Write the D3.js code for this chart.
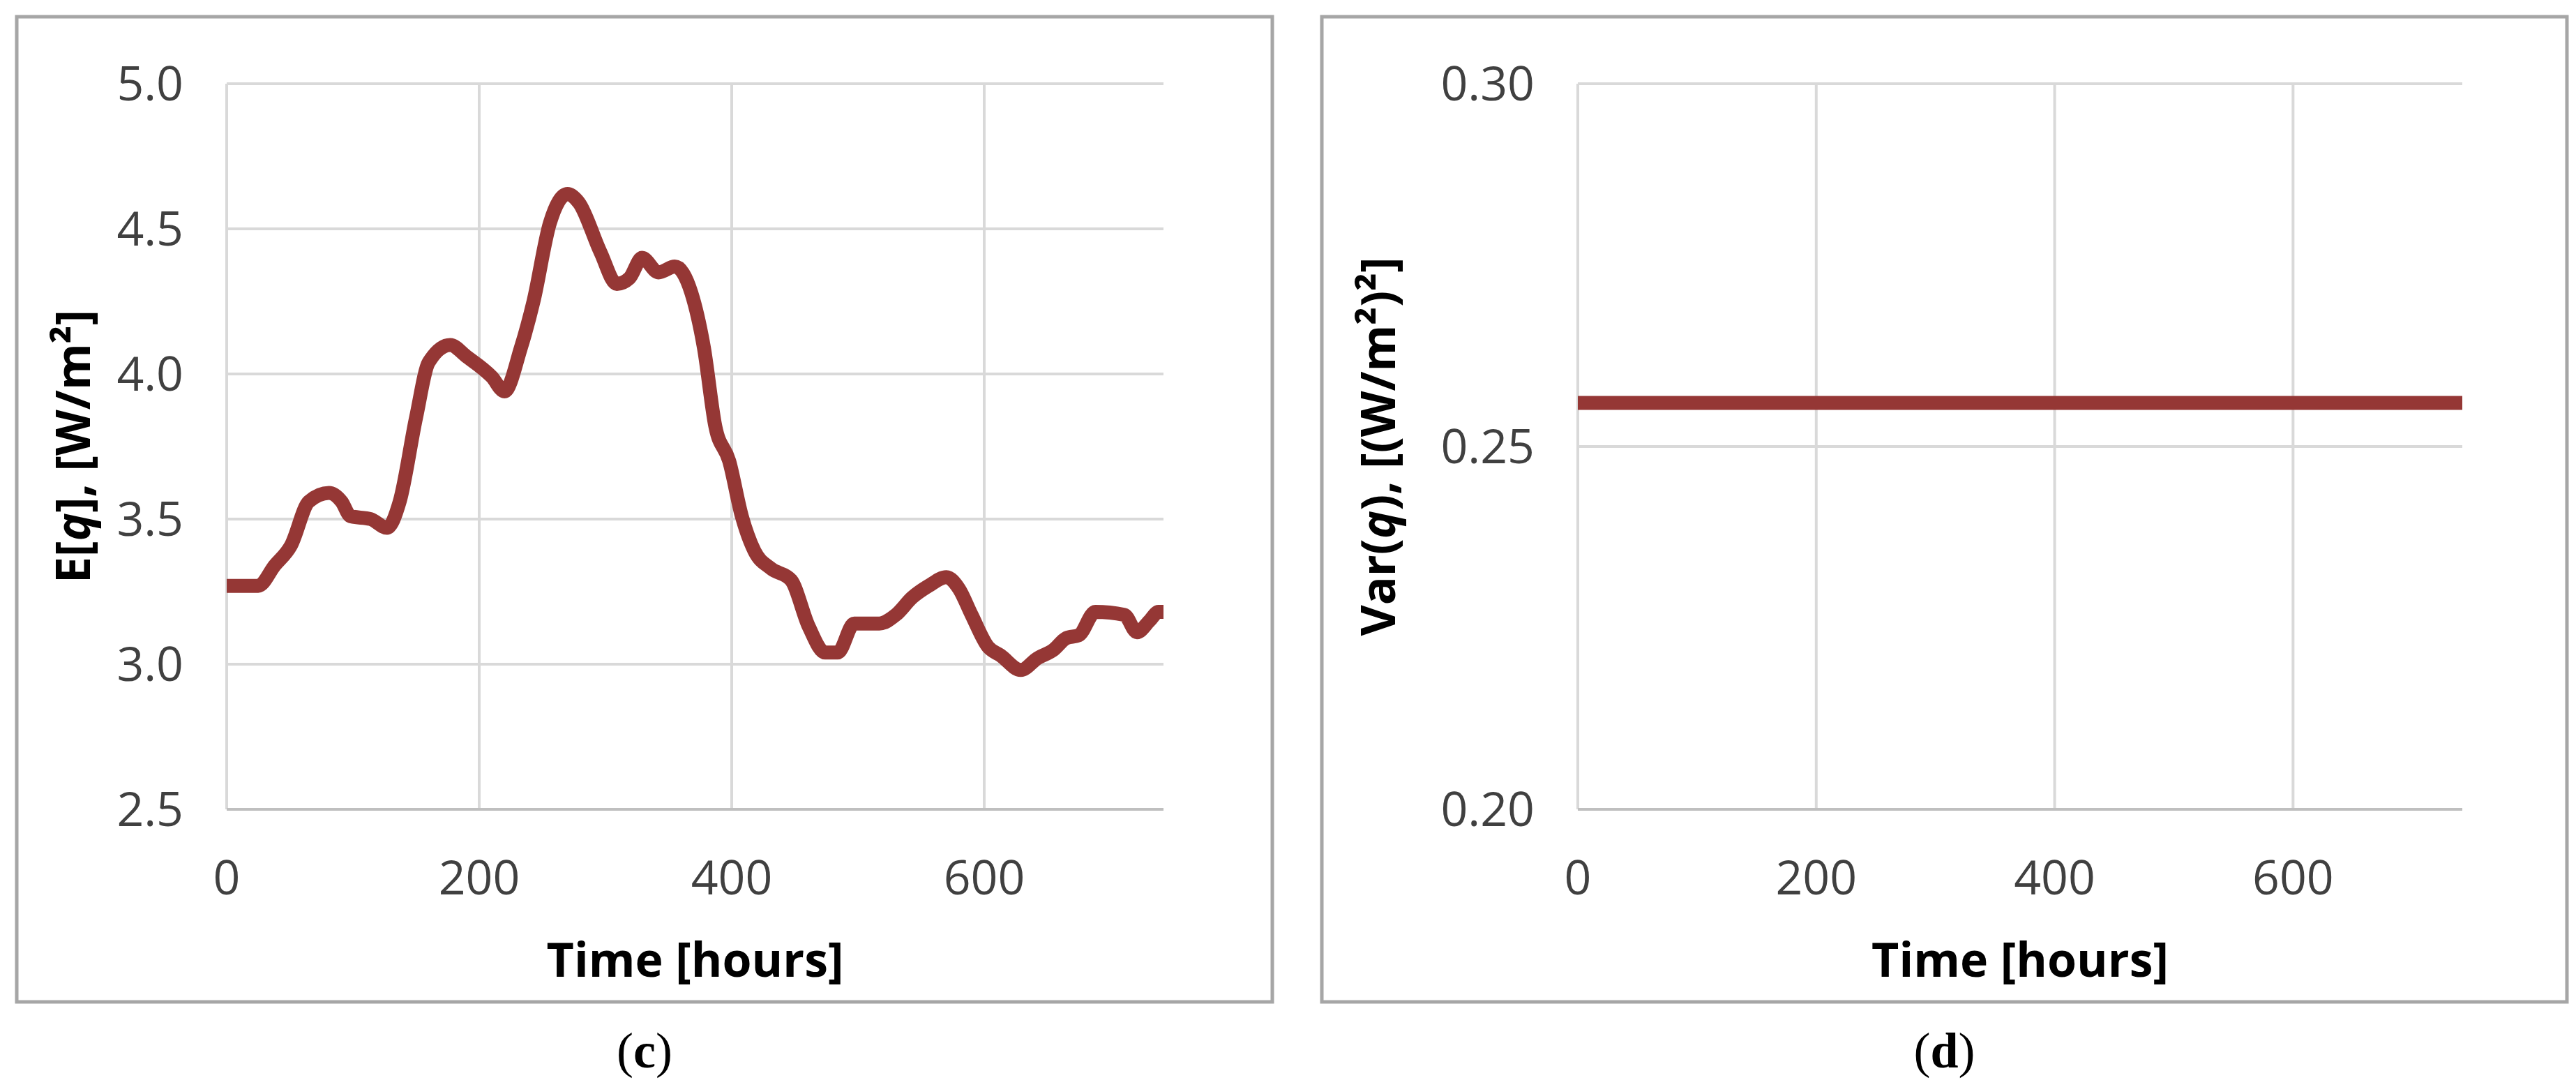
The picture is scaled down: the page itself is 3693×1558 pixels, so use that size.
<!DOCTYPE html>
<html><head><meta charset="utf-8">
<script src="https://cdn.jsdelivr.net/npm/d3@7"></script>
<style>body{margin:0;background:#fff}</style></head>
<body><div id="app"></div>
<script>
// E[q] series
const hours = [0,25,38,51,65,81,91,98,114,127,137,150,160,177,190,210,220,233,243,256,270,279,296,309,319,329,342,355,368,378,387,398,408,418,431,447,461,474,484,497,517,530,543,556,570,580,590,603,613,629,642,655,665,675,688,711,721,731,738,742];
const meanQ = [3.27,3.27,3.34,3.41,3.56,3.59,3.56,3.51,3.50,3.47,3.56,3.85,4.04,4.10,4.06,3.99,3.94,4.09,4.25,4.52,4.62,4.59,4.42,4.31,4.33,4.40,4.35,4.37,4.28,4.09,3.82,3.70,3.51,3.39,3.33,3.29,3.13,3.04,3.04,3.14,3.14,3.17,3.23,3.27,3.30,3.26,3.17,3.06,3.03,2.98,3.02,3.05,3.09,3.10,3.18,3.17,3.11,3.15,3.18,3.18];
const varHours = [0,742];
const varQ = [0.256,0.256];
const xTicks = [0,200,400,600];
const yTicksC = [2.5,3.0,3.5,4.0,4.5,5.0];
const yTicksD = [0.20,0.25,0.30];

const W = 3693, H = 1558;
const svg = d3.select("#app").append("svg").attr("width", W).attr("height", H);

function panel(cfg) {
  const g = svg.append("g");
  g.append("rect").attr("x", cfg.frame[0]).attr("y", 24).attr("width", cfg.frame[1]-cfg.frame[0])
    .attr("height", 1412).attr("fill", "none").attr("stroke", "#a6a6a6").attr("stroke-width", 5);
  const x = d3.scaleLinear().domain([0, 742]).range(cfg.xr);
  const y = d3.scaleLinear().domain(cfg.yd).range([1160, 120]);
  // gridlines
  g.selectAll(".hg").data(cfg.yt).join("line")
    .attr("x1", cfg.xr[0]).attr("x2", cfg.xr[1]).attr("y1", d => y(d)).attr("y2", d => y(d))
    .attr("stroke", "#d9d9d9").attr("stroke-width", 4);
  g.selectAll(".vg").data(xTicks).join("line")
    .attr("x1", d => x(d)).attr("x2", d => x(d)).attr("y1", 120).attr("y2", 1160)
    .attr("stroke", "#d9d9d9").attr("stroke-width", 4);
  g.append("line").attr("x1", cfg.xr[0]).attr("x2", cfg.xr[1]).attr("y1", 1160).attr("y2", 1160)
    .attr("stroke", "#bfbfbf").attr("stroke-width", 4);
  // tick labels
  g.selectAll(".yl").data(cfg.yt).join("text")
    .attr("x", cfg.xr[0] - 62).attr("y", d => y(d) + 24).attr("text-anchor", "end")
    .attr("font-family", "Open Sans").attr("font-size", 68).attr("fill", "#404040")
    .text(d => d3.format(cfg.fmt)(d));
  g.selectAll(".xl").data(xTicks).join("text")
    .attr("x", d => x(d)).attr("y", 1282).attr("text-anchor", "middle")
    .attr("font-family", "Open Sans").attr("font-size", 68).attr("fill", "#404040")
    .text(d => d);
  // titles
  g.append("text").attr("x", (cfg.xr[0] + cfg.xr[1]) / 2).attr("y", 1400).attr("text-anchor", "middle")
    .attr("font-family", "Open Sans").attr("font-weight", "bold").attr("font-size", 68).attr("fill", "#000")
    .text("Time [hours]");
  const yt = g.append("text").attr("transform", `translate(${cfg.frame[0] + 105},${(120 + 1160) / 2}) rotate(-90)`)
    .attr("text-anchor", "middle").attr("font-family", "Open Sans").attr("font-weight", "bold")
    .attr("font-size", 68).attr("fill", "#000");
  cfg.ylab(yt);
  g.append("text").attr("x", (cfg.frame[0] + cfg.frame[1]) / 2).attr("y", 1530).attr("text-anchor", "middle")
    .attr("font-family", "Liberation Serif").attr("font-size", 72).attr("fill", "#000")
    .html(cfg.letter);
  const line = d3.line().x(d => x(d[0])).y(d => y(d[1])).curve(d3.curveMonotoneX);
  g.append("path").datum(d3.zip(cfg.xs, cfg.ys)).attr("d", line).attr("fill", "none")
    .attr("stroke", "#953735").attr("stroke-width", cfg.sw).attr("stroke-linejoin", "round");
}

panel({frame: [24, 1824], xr: [325, 1668], yd: [2.5, 5.0], yt: yTicksC, fmt: ".1f",
  xs: hours, ys: meanQ, sw: 20, letter: '(<tspan font-weight="bold">c</tspan>)',
  ylab: t => { t.append("tspan").text("E["); t.append("tspan").attr("font-style", "italic").text("q"); t.append("tspan").text("], [W/m²]"); }});
panel({frame: [1895, 3680], xr: [2262, 3530], yd: [0.20, 0.30], yt: yTicksD, fmt: ".2f",
  xs: varHours, ys: varQ, sw: 20, letter: '(<tspan font-weight="bold">d</tspan>)',
  ylab: t => { t.append("tspan").text("Var("); t.append("tspan").attr("font-style", "italic").text("q"); t.append("tspan").text("), [(W/m²)²]"); }});
</script></body></html>
